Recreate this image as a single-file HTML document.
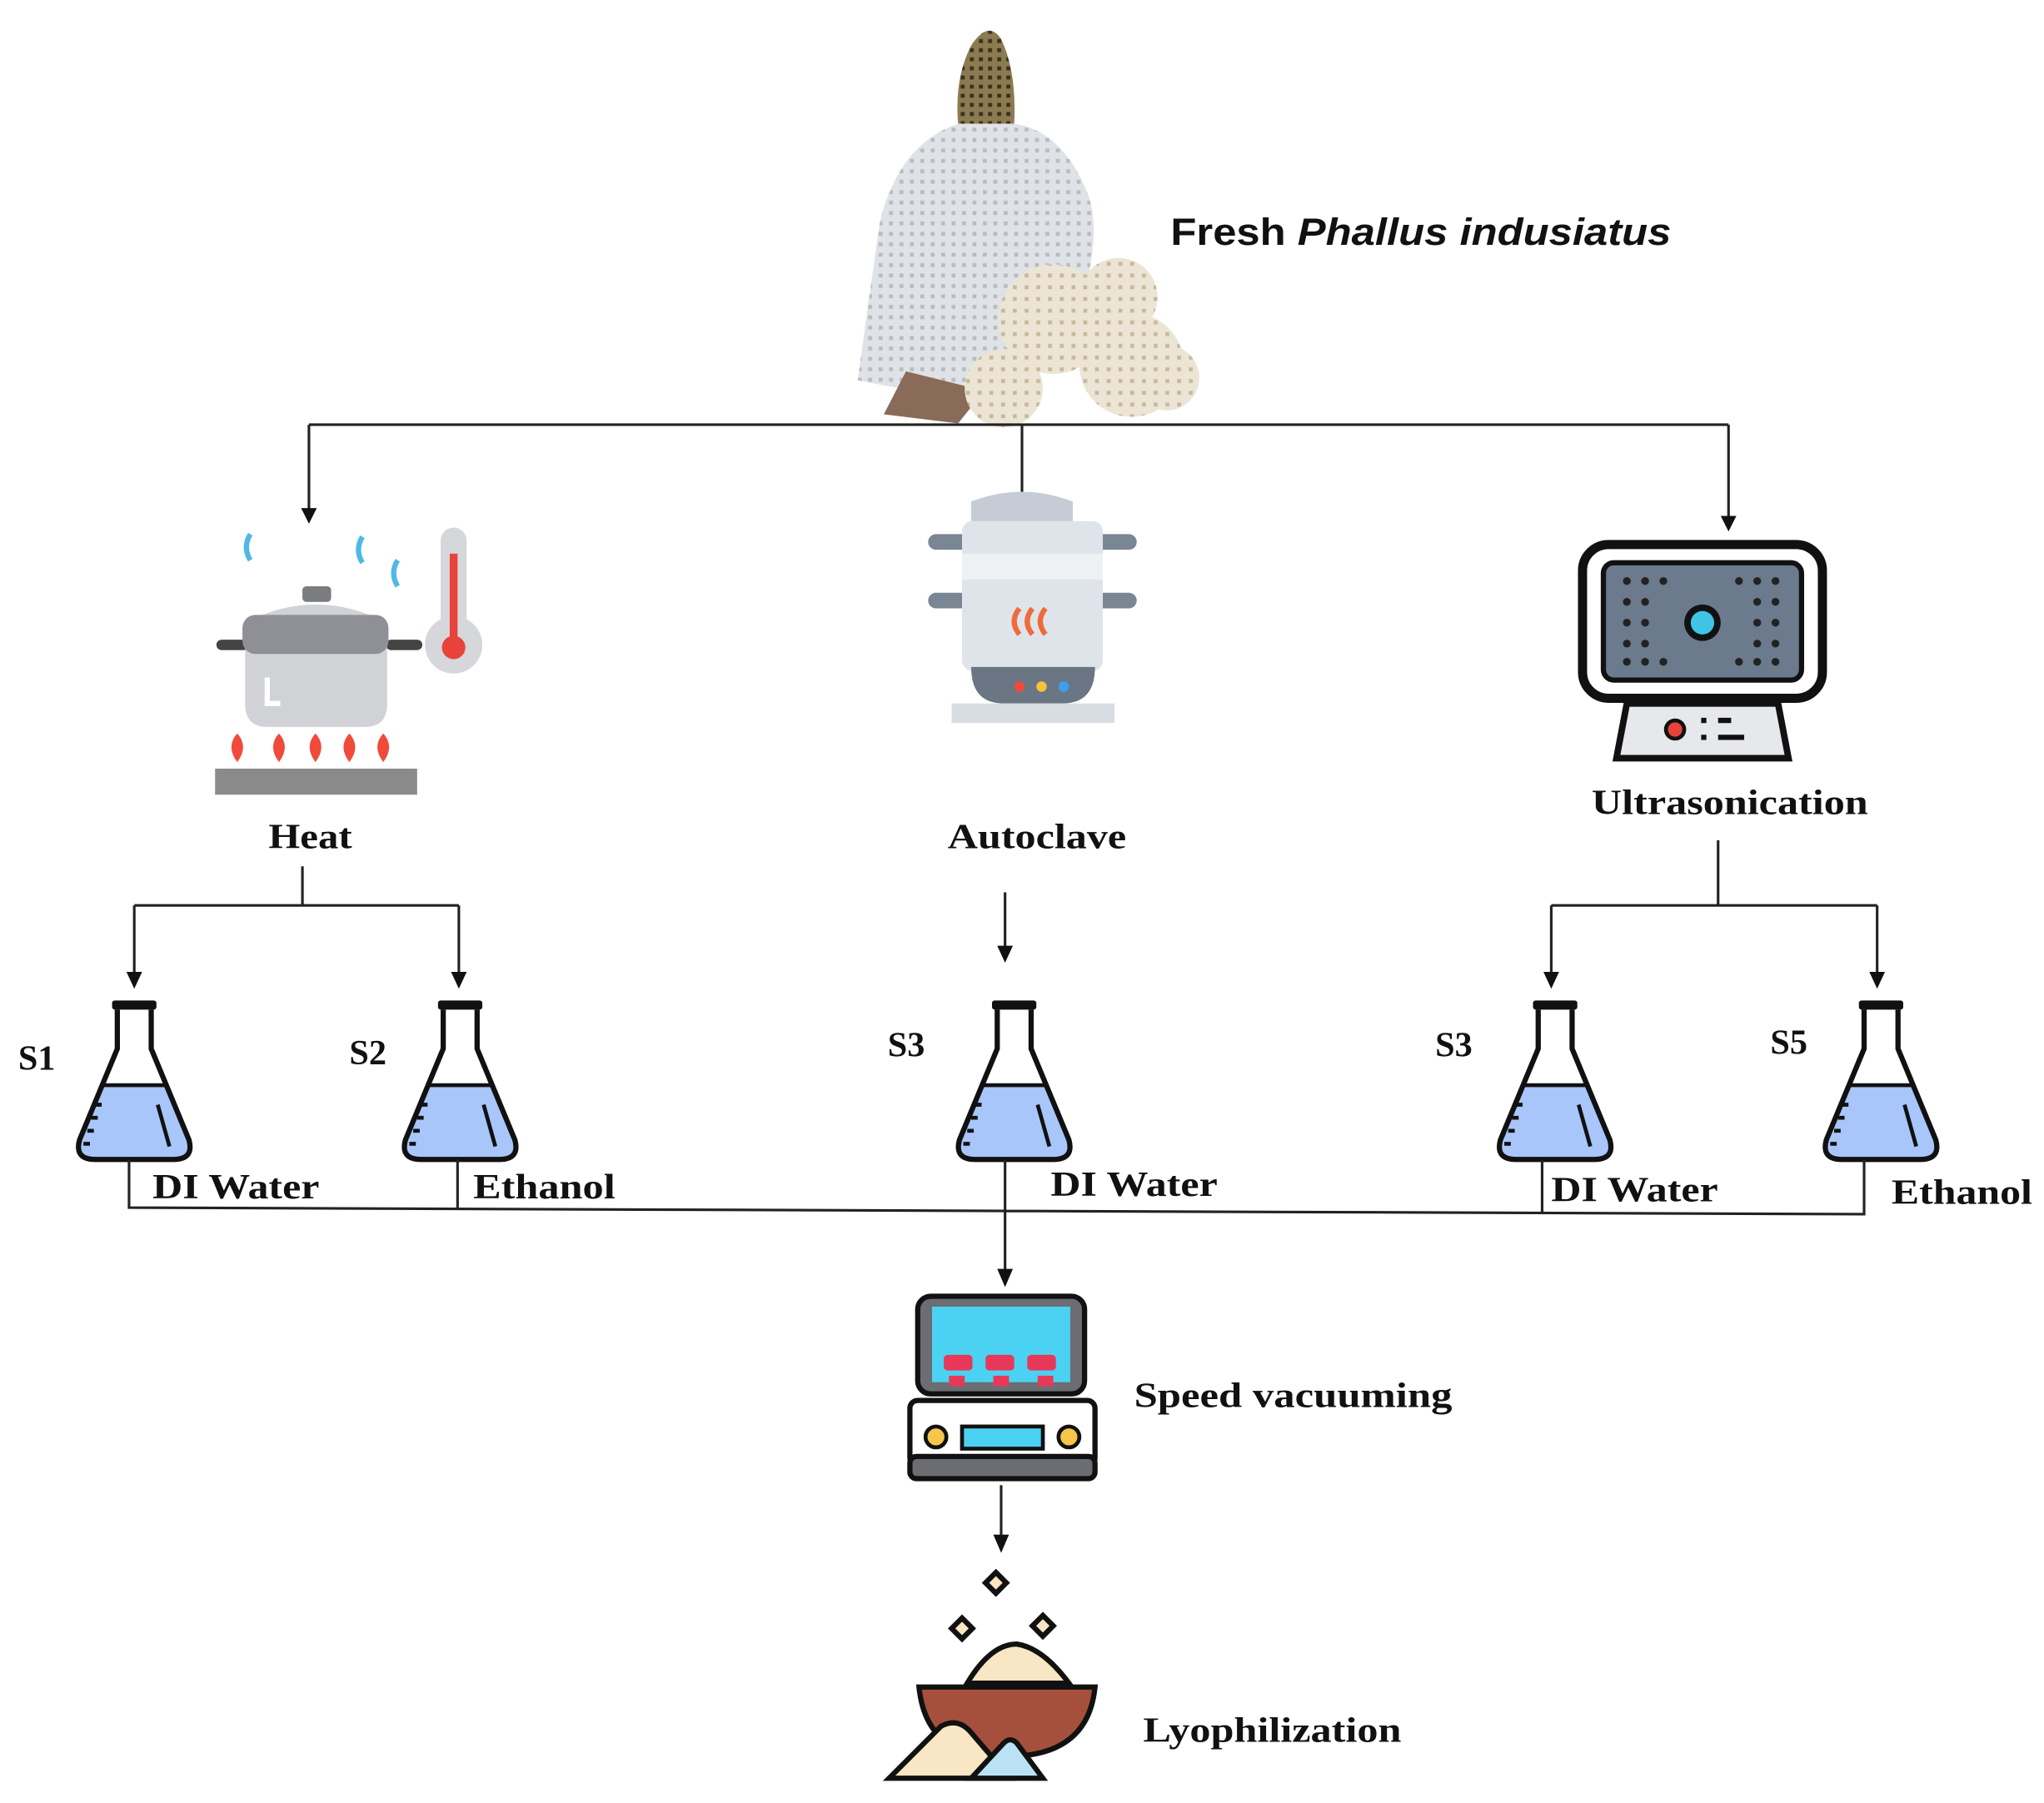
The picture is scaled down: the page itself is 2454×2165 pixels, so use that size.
<!DOCTYPE html>
<html><head><meta charset="utf-8"><style>
html,body{margin:0;padding:0;background:#fff;width:2454px;height:2165px;overflow:hidden}
svg{display:block}
.t{font-family:"Liberation Serif",serif;font-weight:bold;font-size:27px;fill:#111}
.s{font-family:"Liberation Sans",sans-serif;font-weight:bold;font-size:29px;fill:#111}
.l{stroke:#222;stroke-width:2;fill:none}
.ah{fill:#111}
</style></head><body>
<svg width="2454" height="2165" viewBox="0 0 1568 1384" preserveAspectRatio="none" xmlns="http://www.w3.org/2000/svg">
<defs>
<pattern id="net" width="8" height="8" patternUnits="userSpaceOnUse"><rect width="8" height="8" fill="#dfe3e7"/><rect x="2" y="2" width="3" height="3" fill="#b9bcbf"/></pattern>
<pattern id="cap" width="7" height="7" patternUnits="userSpaceOnUse"><rect width="7" height="7" fill="#8c7a50"/><rect x="2" y="2" width="3" height="3" fill="#3a3020"/></pattern>
<pattern id="egg" width="9" height="9" patternUnits="userSpaceOnUse"><rect width="9" height="9" fill="#ece5d6"/><rect x="3" y="3" width="3" height="3" fill="#c8b89a"/></pattern>
<g id="flask">
<path d="M-42,875 Q-46,890 -30,890 L30,890 Q46,890 42,875 L24,833 L-24,833 Z" fill="#a9c6fb"/>
<path d="M-13,775 L-13,805 L-42,875 Q-46,890 -30,890 L30,890 Q46,890 42,875 L13,805 L13,775" fill="none" stroke="#111" stroke-width="4" stroke-linejoin="round"/>
<rect x="-17" y="768" width="34" height="7" rx="2" fill="#111"/>
<line x1="-24" y1="833" x2="24" y2="833" stroke="#111" stroke-width="3"/>
<path d="M-30,848 h5 M-33,858 h5 M-36,868 h5 M-39,878 h5 M18,848 L27,880" stroke="#111" stroke-width="3"/>
</g>
</defs>

<!-- mushroom -->
<path d="M735,95 Q732,60 745,35 Q758,15 768,30 Q780,55 778,95 Z" fill="url(#cap)"/>
<path d="M735,95 Q690,110 675,170 Q665,240 658,292 L700,300 Q740,305 770,280 L830,230 Q845,180 835,150 Q815,100 778,95 Z" fill="url(#net)"/>
<path d="M695,285 L678,318 L735,325 L755,300 Z" fill="#8a6a58"/>
<circle cx="808" cy="245" r="42" fill="url(#egg)"/>
<circle cx="858" cy="228" r="30" fill="url(#egg)"/>
<circle cx="868" cy="280" r="40" fill="url(#egg)"/>
<circle cx="895" cy="290" r="25" fill="url(#egg)"/>
<circle cx="770" cy="298" r="30" fill="url(#egg)"/>
<text x="898" y="188" class="s" textLength="384" lengthAdjust="spacingAndGlyphs">Fresh <tspan font-style="italic">Phallus indusiatus</tspan></text>

<!-- top connectors -->
<path class="l" d="M237,326 H1326 M237,326 V392 M784,326 V390 M1326,326 V398"/>
<path class="ah" d="M231,390 L243,390 L237,402Z M778,388 L790,388 L784,400Z M1320,396 L1332,396 L1326,408Z"/>

<!-- pot -->
<path d="M192,410 q-6,10 0,20 M278,412 q-6,10 0,20 M305,430 q-6,10 0,20" stroke="#4fb8e6" stroke-width="4" fill="none"/>
<rect x="232" y="450" width="22" height="12" rx="3" fill="#7a7c80"/>
<path d="M170,495 h20 M300,495 h20" stroke="#444" stroke-width="8" stroke-linecap="round"/>
<path d="M188,478 Q242,450 297,478 L297,540 Q297,558 280,558 L205,558 Q188,558 188,540Z" fill="#d0d2d6"/>
<rect x="186" y="472" width="112" height="30" rx="10" fill="#8e9095"/>
<path d="M205,520 v20 h10" stroke="#fff" stroke-width="4" fill="none"/>
<g fill="#f04a3a"><path d="M182,585 q-9,-12 0,-22 q9,10 0,22Z"/><path d="M214,585 q-9,-12 0,-22 q9,10 0,22Z"/><path d="M242,585 q-9,-12 0,-22 q9,10 0,22Z"/><path d="M268,585 q-9,-12 0,-22 q9,10 0,22Z"/><path d="M294,585 q-9,-12 0,-22 q9,10 0,22Z"/></g>
<rect x="165" y="590" width="155" height="20" fill="#8a8a8a"/>
<rect x="338" y="405" width="20" height="90" rx="10" fill="#d5d7db"/>
<circle cx="348" cy="495" r="22" fill="#d5d7db"/>
<rect x="345" y="425" width="6" height="70" fill="#e8433a"/>
<circle cx="348" cy="497" r="9" fill="#e8433a"/>
<text x="206" y="651" class="t" textLength="64" lengthAdjust="spacingAndGlyphs">Heat</text>

<!-- autoclave -->
<path d="M745,385 Q784,370 823,385 L823,405 L745,405Z" fill="#c5ccd5"/>
<rect x="712" y="410" width="160" height="12" rx="6" fill="#7a8694"/>
<rect x="712" y="455" width="160" height="12" rx="6" fill="#7a8694"/>
<rect x="738" y="400" width="108" height="115" rx="8" fill="#dfe4ea"/>
<rect x="738" y="425" width="108" height="20" fill="#eef1f4"/>
<path d="M782,467 q-8,10 0,20 M792,467 q-8,10 0,20 M802,467 q-8,10 0,20" stroke="#f06a3a" stroke-width="4" fill="none"/>
<path d="M745,512 H840 Q840,540 815,540 H770 Q745,540 745,512Z" fill="#6b7684"/>
<circle cx="782" cy="527" r="4" fill="#f04a3a"/><circle cx="799" cy="527" r="4" fill="#f6c23a"/><circle cx="816" cy="527" r="4" fill="#3aa0f0"/>
<rect x="730" y="540" width="125" height="15" fill="#d8dde3"/>
<text x="727" y="651" class="t" textLength="137" lengthAdjust="spacingAndGlyphs">Autoclave</text>

<!-- ultrasonic -->
<rect x="1214" y="418" width="184" height="118" rx="20" fill="#fff" stroke="#111" stroke-width="7"/>
<rect x="1230" y="432" width="152" height="90" rx="8" fill="#6c7a8e" stroke="#111" stroke-width="4"/>
<g fill="#222">
<circle cx="1248" cy="446" r="3"/><circle cx="1262" cy="446" r="3"/><circle cx="1276" cy="446" r="3"/><circle cx="1334" cy="446" r="3"/><circle cx="1348" cy="446" r="3"/><circle cx="1362" cy="446" r="3"/>
<circle cx="1248" cy="462" r="3"/><circle cx="1262" cy="462" r="3"/><circle cx="1348" cy="462" r="3"/><circle cx="1362" cy="462" r="3"/>
<circle cx="1248" cy="478" r="3"/><circle cx="1262" cy="478" r="3"/><circle cx="1348" cy="478" r="3"/><circle cx="1362" cy="478" r="3"/>
<circle cx="1248" cy="494" r="3"/><circle cx="1262" cy="494" r="3"/><circle cx="1348" cy="494" r="3"/><circle cx="1362" cy="494" r="3"/>
<circle cx="1248" cy="508" r="3"/><circle cx="1262" cy="508" r="3"/><circle cx="1276" cy="508" r="3"/><circle cx="1334" cy="508" r="3"/><circle cx="1348" cy="508" r="3"/><circle cx="1362" cy="508" r="3"/>
</g>
<circle cx="1306" cy="478" r="14" fill="#111"/><circle cx="1306" cy="478" r="9" fill="#3fc4e6"/>
<path d="M1248,540 H1364 L1372,582 H1240 Z" fill="#e6e8ec" stroke="#111" stroke-width="5"/>
<circle cx="1285" cy="560" r="7" fill="#e8433a" stroke="#111" stroke-width="3"/>
<path d="M1305,553 h4 M1318,553 h10 M1305,566 h4 M1318,566 h20" stroke="#111" stroke-width="4"/>
<text x="1221" y="625" class="t" textLength="212" lengthAdjust="spacingAndGlyphs">Ultrasonication</text>

<!-- branch connectors -->
<path class="l" d="M232,665 V695 M103,695 H352 M1318,645 V695 M1190,695 H1440 M103,695 V748 M352,695 V748 M771,685 V728 M1190,695 V748 M1440,695 V748"/>
<path class="ah" d="M97,746 L109,746 L103,759Z M346,746 L358,746 L352,759Z M765,726 L777,726 L771,739Z M1184,746 L1196,746 L1190,759Z M1434,746 L1446,746 L1440,759Z"/>

<!-- flasks -->
<use href="#flask" x="103"/>
<use href="#flask" x="353"/>
<use href="#flask" x="778"/>
<use href="#flask" x="1193"/>
<use href="#flask" x="1443"/>
<text x="14" y="821" class="t">S1</text>
<text x="268" y="817" class="t">S2</text>
<text x="681" y="811" class="t">S3</text>
<text x="1101" y="811" class="t">S3</text>
<text x="1358" y="809" class="t">S5</text>
<text x="117" y="920" class="t" textLength="128" lengthAdjust="spacingAndGlyphs">DI Water</text>
<text x="363" y="920" class="t" textLength="109" lengthAdjust="spacingAndGlyphs">Ethanol</text>
<text x="806" y="918" class="t" textLength="128" lengthAdjust="spacingAndGlyphs">DI Water</text>
<text x="1190" y="922" class="t" textLength="128" lengthAdjust="spacingAndGlyphs">DI Water</text>
<text x="1451" y="924" class="t" textLength="108" lengthAdjust="spacingAndGlyphs">Ethanol</text>

<!-- bottom collector -->
<path class="l" d="M99,890 V927 L1430,932 V890 M351,890 V928 M1183,890 V931 M771,890 V976"/>
<path class="ah" d="M765,974 L777,974 L771,988Z"/>

<!-- speed vac -->
<rect x="704" y="995" width="128" height="75" rx="10" fill="#6b6d72" stroke="#111" stroke-width="4"/>
<rect x="715" y="1003" width="106" height="58" fill="#4bd2f2"/>
<g fill="#e8385a"><rect x="724" y="1040" width="22" height="12" rx="3"/><rect x="756" y="1040" width="22" height="12" rx="3"/><rect x="788" y="1040" width="22" height="12" rx="3"/><rect x="728" y="1056" width="12" height="8"/><rect x="762" y="1056" width="12" height="8"/><rect x="796" y="1056" width="12" height="8"/></g>
<rect x="698" y="1075" width="142" height="50" rx="6" fill="#fff" stroke="#111" stroke-width="4"/>
<rect x="698" y="1118" width="142" height="17" rx="5" fill="#6b6d72" stroke="#111" stroke-width="4"/>
<circle cx="718" cy="1103" r="8" fill="#f5c64a" stroke="#111" stroke-width="3"/>
<circle cx="820" cy="1103" r="8" fill="#f5c64a" stroke="#111" stroke-width="3"/>
<rect x="738" y="1095" width="62" height="17" fill="#4bd2f2" stroke="#111" stroke-width="3"/>
<text x="870" y="1080" class="t" textLength="244" lengthAdjust="spacingAndGlyphs">Speed vacuuming</text>
<path class="l" d="M768,1140 V1180"/>
<path class="ah" d="M762,1178 L774,1178 L768,1192Z"/>

<!-- lyophilization -->
<g stroke="#111" stroke-width="4" fill="#f8e6c4">
<path d="M764,1207 l8,8 l-8,8 l-8,-8Z"/><path d="M738,1242 l8,8 l-8,8 l-8,-8Z"/><path d="M800,1240 l8,8 l-8,8 l-8,-8Z"/>
<path d="M742,1292 Q760,1262 780,1262 Q800,1265 820,1292Z"/>
<path d="M705,1295 H840 Q835,1345 780,1348 H760 Q710,1345 705,1295Z" fill="#a5503c"/>
<path d="M682,1365 L722,1325 Q735,1318 745,1330 L775,1365Z"/>
<path d="M745,1365 L770,1338 Q775,1333 780,1338 L800,1365Z" fill="#b9e3f5"/>
</g>
<text x="877" y="1337" class="t" textLength="198" lengthAdjust="spacingAndGlyphs">Lyophilization</text>
</svg>
</body></html>
